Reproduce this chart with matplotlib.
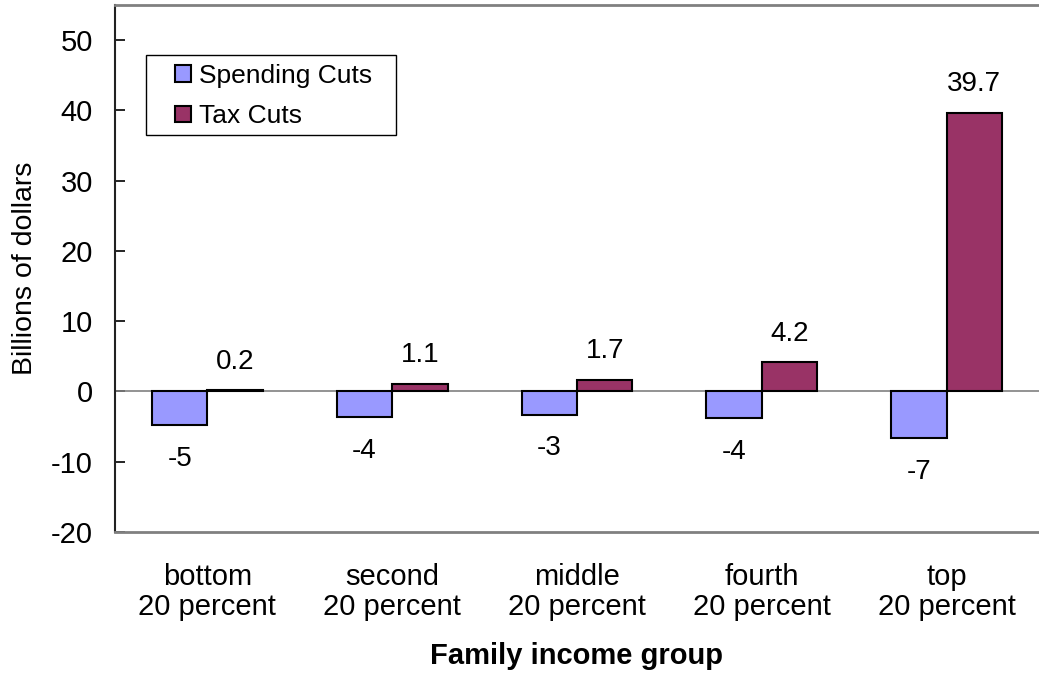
import matplotlib
matplotlib.use("Agg")
import matplotlib.pyplot as plt
from matplotlib.patches import Rectangle
import numpy as np

groups = ["bottom\n20 percent", "second\n20 percent", "middle\n20 percent",
          "fourth\n20 percent", "top\n20 percent"]
spending_cuts = [-4.8, -3.6, -3.3, -3.8, -6.6]
tax_cuts = [0.2, 1.1, 1.7, 4.2, 39.7]
y_ticks = [-20, -10, 0, 10, 20, 30, 40, 50]

plt.rcParams["font.family"] = ["Liberation Sans", "DejaVu Sans"]
plt.rcParams["axes.unicode_minus"] = False

fig = plt.figure(figsize=(10.39, 6.75), dpi=100)
ax = fig.add_axes([115 / 1039, 143 / 675, 924 / 1039, 527 / 675])

x = np.arange(len(groups))
w = 0.3
b1 = ax.bar(x - w / 2, spending_cuts, w, color="#9999FF", edgecolor="black",
            linewidth=1.5, label="Spending Cuts", zorder=3)
b2 = ax.bar(x + w / 2, tax_cuts, w, color="#993366", edgecolor="black",
            linewidth=1.5, label="Tax Cuts", zorder=3)

ax.axhline(0, color="#808080", linewidth=1.2, zorder=2)

for r, v in zip(b1, spending_cuts):
  ax.annotate("%.0f" % v, (r.get_x() + r.get_width() / 2, v),
              xytext=(0, -15), textcoords="offset points",
              ha="center", va="top", fontsize=20)
for r, v in zip(b2, tax_cuts):
  ax.annotate("%.1f" % v, (r.get_x() + r.get_width() / 2, v),
              xytext=(0, 11), textcoords="offset points",
              ha="center", va="bottom", fontsize=20)

ax.set_xlim(-0.5, 4.5)
ax.set_ylim(-20, 55)
ax.set_yticks(y_ticks)
ax.set_xticks(x)
ax.set_xticklabels(groups, fontsize=21, linespacing=1.12)
ax.tick_params(axis="x", length=0, pad=22)
ax.tick_params(axis="y", direction="in", length=7, width=1.2, labelsize=21, pad=16)

ax.spines["right"].set_visible(False)
ax.spines["top"].set_color("#808080")
ax.spines["bottom"].set_color("#808080")
ax.spines["top"].set_linewidth(2)
ax.spines["bottom"].set_linewidth(2)
ax.spines["left"].set_color("#222222")
ax.spines["left"].set_linewidth(1.5)

ax.set_ylabel("Billions of dollars", fontsize=20.5)
ax.yaxis.set_label_coords(-0.083, 0.5)
ax.set_xlabel("Family income group", fontsize=21, fontweight="bold")
ax.xaxis.set_label_coords(0.5, -0.208)

# legend frame drawn separately (wider horizontal padding than vertical)
ax.add_patch(Rectangle((0.0335, 0.753), 0.2705, 0.152, transform=ax.transAxes,
                       facecolor="white", edgecolor="black", linewidth=1.0,
                       zorder=4))
leg = ax.legend(loc="upper left", bbox_to_anchor=(0.065, 0.888), fontsize=19,
                frameon=False, handlelength=0.6, handleheight=0.6,
                handletextpad=0.3, borderpad=0, labelspacing=0.62,
                borderaxespad=0)
leg.set_zorder(5)

fig.savefig("out.png", dpi=100)
